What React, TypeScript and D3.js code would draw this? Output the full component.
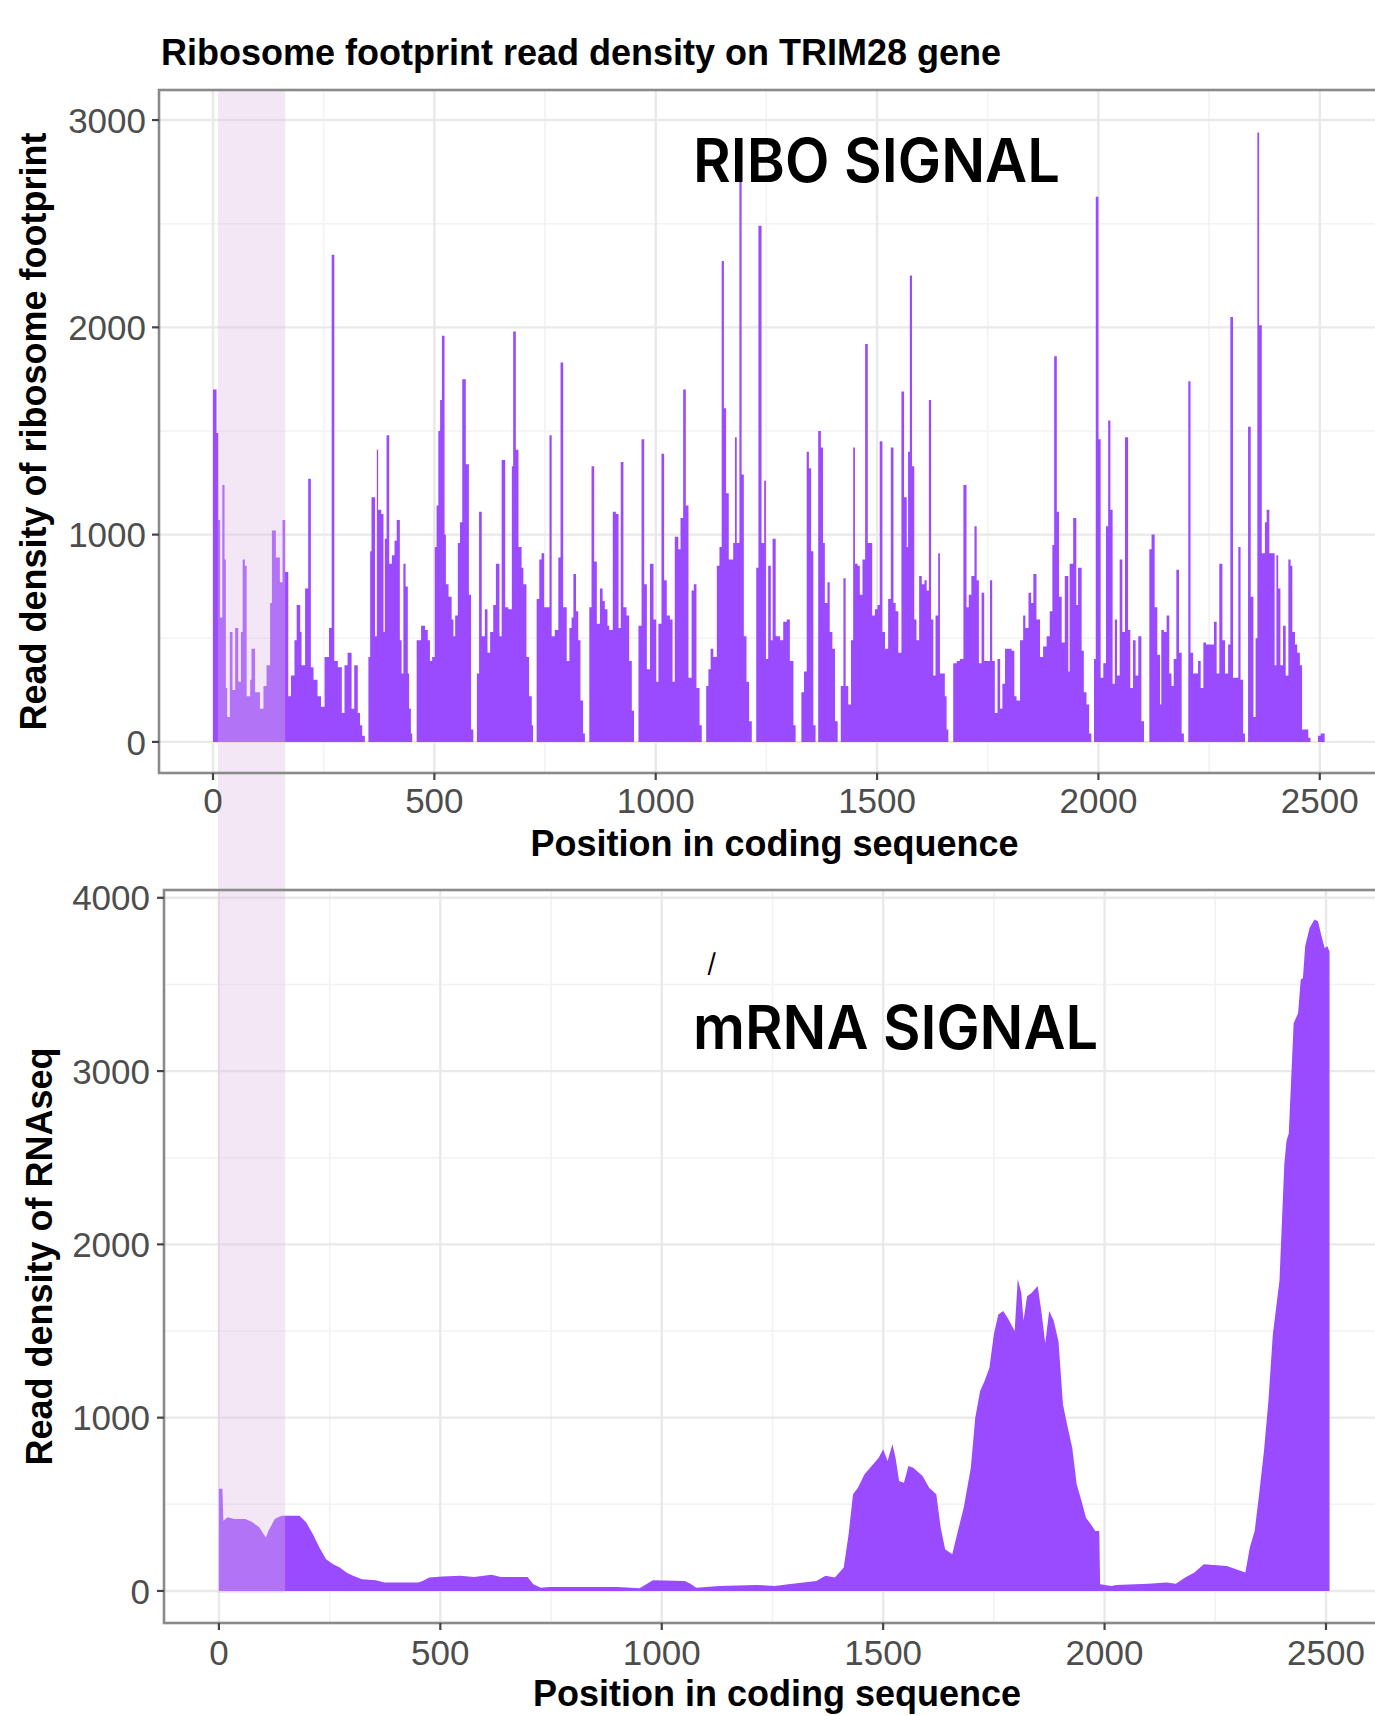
import * as d3 from "d3";

// ribosome footprint density, [position, reads]
const riboSignal: [number, number][] = [
  [0, 1700], [8, 1490], [12, 1070], [16, 600], [21, 1240], [26, 880], [29, 260], [32, 120], [38, 530], [44, 250],
  [50, 550], [57, 290], [63, 530], [67, 880], [72, 850], [76, 220], [84, 300], [87, 450], [95, 240], [106, 160],
  [114, 270], [121, 370], [129, 670], [133, 1020], [142, 890], [151, 770], [157, 1070], [163, 820], [170, 220], [176, 320],
  [184, 490], [189, 660], [197, 530], [200, 370], [208, 740], [215, 1270], [221, 360], [227, 300], [236, 220], [244, 170],
  [252, 410], [262, 550], [268, 2350], [274, 390], [282, 360], [291, 140], [297, 370], [304, 430], [313, 160], [319, 370],
  [327, 140], [332, 80], [337, 30], [343, 0],
  [351, 410], [355, 920], [358, 1180], [366, 510], [370, 1410], [373, 1120], [380, 1100], [385, 530], [388, 980], [392, 1480],
  [398, 860], [404, 900], [410, 970], [415, 1070], [422, 490], [426, 330], [430, 860], [435, 750], [440, 330], [443, 160],
  [447, 40], [450, 0],
  [460, 490], [470, 560], [479, 540], [485, 490], [490, 390], [495, 410], [501, 940], [505, 1140], [509, 1500], [513, 1650],
  [517, 1960], [523, 1000], [526, 760], [532, 700], [539, 590], [543, 510], [547, 610], [553, 960], [558, 1060], [563, 1750],
  [571, 1340], [578, 710], [583, 60], [588, 0],
  [596, 330], [601, 1110], [607, 510], [614, 640], [620, 430], [626, 530], [633, 660], [639, 860], [647, 510], [652, 1360],
  [660, 650], [667, 640], [675, 1330], [678, 1980], [684, 1410], [690, 940], [697, 840], [701, 760], [708, 410], [714, 220],
  [720, 80], [723, 0],
  [731, 690], [737, 880], [742, 910], [748, 650], [760, 1480], [765, 510], [772, 540], [780, 890], [785, 1830], [791, 650],
  [799, 390], [805, 550], [810, 600], [814, 810], [820, 630], [825, 490], [830, 200], [836, 40], [840, 0],
  [850, 650], [855, 1330], [861, 870], [867, 570], [874, 740], [880, 680], [885, 640], [891, 560], [895, 540], [903, 1110],
  [910, 1100], [916, 550], [921, 1350], [927, 650], [934, 610], [940, 390], [946, 150], [951, 0],
  [961, 560], [968, 1460], [974, 760], [980, 350], [987, 860], [995, 590], [1001, 290], [1006, 570], [1013, 1390], [1019, 780],
  [1025, 610], [1032, 590], [1038, 290], [1043, 990], [1051, 930], [1056, 1080], [1062, 1700], [1068, 1140], [1074, 310], [1081, 730],
  [1086, 760], [1092, 260], [1099, 80], [1104, 0],
  [1114, 270], [1119, 350], [1124, 450], [1130, 410], [1138, 850], [1144, 940], [1149, 2320], [1154, 1610], [1159, 1200], [1165, 880],
  [1175, 960], [1179, 1470], [1183, 960], [1189, 2740], [1194, 1290], [1199, 510], [1205, 290], [1211, 100], [1217, 0],
  [1227, 840], [1232, 2490], [1239, 960], [1245, 1260], [1249, 400], [1254, 850], [1260, 490], [1264, 980], [1271, 510], [1281, 490],
  [1288, 580], [1296, 590], [1303, 390], [1311, 80], [1316, 0],
  [1329, 240], [1335, 340], [1341, 1400], [1346, 1320], [1351, 920], [1356, 80], [1361, 0],
  [1367, 1500], [1373, 1420], [1378, 960], [1382, 670], [1388, 770], [1393, 530], [1399, 450], [1405, 100], [1411, 0],
  [1418, 270], [1424, 790], [1429, 270], [1435, 180], [1441, 490], [1446, 1420], [1450, 860], [1456, 850], [1461, 710], [1467, 880],
  [1473, 1920], [1479, 960], [1489, 610], [1495, 640], [1501, 660], [1506, 1450], [1512, 530], [1518, 450], [1525, 690], [1531, 1420],
  [1537, 670], [1542, 630], [1548, 430], [1555, 1690], [1561, 1180], [1567, 940], [1570, 1400], [1574, 2250], [1579, 1330], [1584, 590],
  [1589, 490], [1595, 800], [1601, 760], [1607, 780], [1612, 730], [1617, 1650], [1622, 590], [1627, 320], [1632, 610], [1638, 910],
  [1642, 330], [1653, 220], [1657, 60], [1661, 0],
  [1672, 380], [1680, 390], [1687, 400], [1695, 1240], [1702, 650], [1707, 710], [1713, 800], [1720, 1040], [1725, 780], [1730, 380],
  [1736, 720], [1742, 390], [1755, 780], [1760, 390], [1766, 140], [1772, 400], [1778, 160], [1783, 280], [1789, 450], [1804, 440],
  [1810, 220], [1815, 200], [1823, 490], [1830, 610], [1835, 550], [1842, 720], [1848, 670], [1853, 810], [1860, 590], [1868, 410],
  [1875, 460], [1883, 510], [1890, 630], [1896, 950], [1900, 1860], [1906, 1110], [1911, 700], [1917, 480], [1924, 800], [1932, 340],
  [1935, 860], [1943, 1080], [1950, 660], [1954, 840], [1962, 440], [1967, 240], [1973, 180], [1979, 40], [1984, 0],
  [1990, 400], [1994, 2630], [2000, 1460], [2005, 310], [2011, 380], [2017, 1040], [2022, 1550], [2027, 1120], [2032, 280], [2037, 590],
  [2042, 320], [2048, 880], [2054, 530], [2060, 1470], [2067, 540], [2072, 260], [2078, 490], [2084, 320], [2090, 510], [2097, 100],
  [2103, 0],
  [2115, 930], [2120, 1000], [2127, 650], [2133, 420], [2139, 180], [2142, 540], [2148, 530], [2154, 610], [2160, 330], [2165, 270],
  [2170, 400], [2176, 830], [2182, 430], [2188, 40], [2193, 0],
  [2203, 1740], [2208, 430], [2214, 330], [2225, 390], [2231, 260], [2237, 480], [2243, 470], [2255, 470], [2261, 580], [2267, 330],
  [2273, 860], [2280, 490], [2286, 330], [2293, 470], [2298, 2050], [2304, 310], [2316, 940], [2321, 300], [2327, 40], [2331, 0],
  [2338, 1520], [2344, 700], [2350, 120], [2355, 500], [2359, 2940], [2363, 2010], [2369, 910], [2376, 1060], [2380, 1120], [2386, 910],
  [2398, 370], [2402, 900], [2406, 740], [2411, 370], [2417, 560], [2423, 320], [2429, 880], [2434, 850], [2438, 530], [2444, 470],
  [2449, 430], [2455, 370], [2460, 60], [2474, 20], [2479, 0],
  [2496, 30], [2502, 40], [2511, 0],
];

// RNA-seq coverage, [position, reads]
const mrnaSignal: [number, number][] = [
  [0, 590], [8, 590], [10, 405], [20, 425], [35, 415], [60, 415], [76, 396], [91, 367], [106, 309], [112, 347],
  [126, 415], [141, 434], [182, 434], [197, 396], [212, 328], [227, 251], [242, 183], [258, 154], [273, 135], [288, 106],
  [303, 87], [323, 68], [354, 62], [374, 48], [450, 48], [460, 58], [475, 77], [505, 83], [545, 87], [576, 81],
  [616, 93], [636, 81], [697, 81], [710, 39], [727, 19], [747, 23], [900, 23], [950, 15], [965, 39], [980, 62],
  [1052, 58], [1065, 42], [1078, 19], [1130, 29], [1213, 35], [1255, 29], [1286, 38], [1349, 58], [1370, 87], [1391, 77],
  [1411, 135], [1422, 327], [1432, 558], [1443, 596], [1458, 673], [1474, 721], [1490, 769], [1500, 817], [1510, 750], [1521, 846],
  [1528, 769], [1536, 635], [1547, 625], [1557, 721], [1568, 711], [1589, 663], [1604, 596], [1620, 558], [1630, 365], [1640, 240],
  [1656, 212], [1667, 327], [1682, 481], [1698, 711], [1708, 1000], [1719, 1154], [1729, 1212], [1740, 1288], [1750, 1481], [1760, 1596],
  [1771, 1615], [1781, 1577], [1797, 1500], [1804, 1800], [1812, 1720], [1817, 1560], [1825, 1700], [1835, 1720], [1849, 1760], [1858, 1600],
  [1866, 1430], [1875, 1615], [1885, 1560], [1896, 1440], [1906, 1077], [1917, 942], [1927, 827], [1937, 615], [1948, 519], [1958, 423],
  [1969, 385], [1979, 346], [1988, 346], [1990, 38], [2016, 29], [2026, 35], [2099, 42], [2140, 48], [2161, 42], [2182, 77],
  [2203, 106], [2224, 154], [2276, 144], [2297, 125], [2318, 106], [2328, 250], [2339, 346], [2349, 558], [2360, 808], [2370, 1096],
  [2380, 1481], [2395, 1790], [2406, 2466], [2411, 2600], [2416, 2640], [2427, 3276], [2437, 3334], [2443, 3527], [2448, 3537], [2453, 3720],
  [2463, 3826], [2474, 3875], [2482, 3865], [2489, 3788], [2497, 3710], [2503, 3720], [2508, 3690],
];

const xTicks = [0, 500, 1000, 1500, 2000, 2500];
const xMinor = [250, 750, 1250, 1750, 2250];
const riboYTicks = [0, 1000, 2000, 3000];
const riboYMinor = [500, 1500, 2500];
const mrnaYTicks = [0, 1000, 2000, 3000, 4000];
const mrnaYMinor = [500, 1500, 2500, 3500];
const highlight = [11, 163]; // shaded 5' region, in positions

const W = 1375;
const H = 1716;
const PURPLE = "#9a4aff";
const AXIS_FONT = "'Liberation Sans', Arial, Helvetica, sans-serif";

type Box = { left: number; top: number; bottom: number; right: number };

function PanelFrame({
  box,
  x,
  y,
  yTicks,
  yMinor,
  xTitle,
  xTitleY,
  xLabelY,
  yTitle,
  yTitleX,
  yLabelX,
}: {
  box: Box;
  x: d3.ScaleLinear<number, number>;
  y: d3.ScaleLinear<number, number>;
  yTicks: number[];
  yMinor: number[];
  xTitle: string;
  xTitleY: number;
  xLabelY: number;
  yTitle: string;
  yTitleX: number;
  yLabelX: number;
}) {
  const midY = (box.top + box.bottom) / 2;
  return (
    <g fontFamily={AXIS_FONT}>
      {yTicks.map((t) => (
        <g key={"yl" + t}>
          <line x1={box.left - 7} x2={box.left} y1={y(t)} y2={y(t)} stroke="#444" strokeWidth={2.2} />
          <text x={yLabelX} y={y(t)} dy="0.36em" textAnchor="end" fontSize={35} fill="#4d4d4d">
            {t}
          </text>
        </g>
      ))}
      {xTicks.map((t) => (
        <g key={"xl" + t}>
          <line x1={x(t)} x2={x(t)} y1={box.bottom} y2={box.bottom + 7} stroke="#444" strokeWidth={2.2} />
          <text x={x(t)} y={xLabelY} textAnchor="middle" fontSize={35} fill="#4d4d4d">
            {t}
          </text>
        </g>
      ))}
      <text
        x={(box.left + 1250) / 2 + 70}
        y={xTitleY}
        textAnchor="middle"
        fontSize={36}
        fontWeight="bold"
        fill="#000"
      >
        {xTitle}
      </text>
      <text
        transform={`translate(${yTitleX},${midY}) rotate(-90)`}
        textAnchor="middle"
        fontSize={36}
        fontWeight="bold"
        fill="#000"
      >
        {yTitle}
      </text>
    </g>
  );
}

function Grid({ box, x, y, yTicks, yMinor }: { box: Box; x: d3.ScaleLinear<number, number>; y: d3.ScaleLinear<number, number>; yTicks: number[]; yMinor: number[] }) {
  return (
    <g>
      {yMinor.map((t) => (
        <line key={"ym" + t} x1={box.left} x2={box.right} y1={y(t)} y2={y(t)} stroke="#f2f2f2" strokeWidth={1.6} />
      ))}
      {xMinor.map((t) => (
        <line key={"xm" + t} x1={x(t)} x2={x(t)} y1={box.top} y2={box.bottom} stroke="#f2f2f2" strokeWidth={1.6} />
      ))}
      {yTicks.map((t) => (
        <line key={"yg" + t} x1={box.left} x2={box.right} y1={y(t)} y2={y(t)} stroke="#e9e9e9" strokeWidth={2.4} />
      ))}
      {xTicks.map((t) => (
        <line key={"xg" + t} x1={x(t)} x2={x(t)} y1={box.top} y2={box.bottom} stroke="#e9e9e9" strokeWidth={2.4} />
      ))}
    </g>
  );
}

export default function App() {
  const top: Box = { left: 159, top: 90, bottom: 773, right: 1380 };
  const bot: Box = { left: 164, top: 890, bottom: 1623, right: 1380 };

  const xTop = d3.scaleLinear().domain([-122, 2636]).range([top.left, top.right]);
  const yTop = d3.scaleLinear().domain([-150, 3145]).range([top.bottom, top.top]);
  const xBot = d3.scaleLinear().domain([-124, 2622]).range([bot.left, bot.right]);
  const yBot = d3.scaleLinear().domain([-185, 4045]).range([bot.bottom, bot.top]);

  const riboArea = d3
    .area<[number, number]>()
    .x((d) => xTop(d[0]))
    .y0(yTop(0))
    .y1((d) => yTop(d[1]))
    .curve(d3.curveStepAfter);

  const mrnaArea = d3
    .area<[number, number]>()
    .x((d) => xBot(d[0]))
    .y0(yBot(0))
    .y1((d) => yBot(d[1]));

  const hx0 = xTop(highlight[0]);
  const hx1 = xTop(highlight[1]);

  return (
    <svg width={W} height={H} style={{ position: "absolute", left: 0, top: 0, background: "#fff" }}>
      <rect x={0} y={0} width={W} height={H} fill="#fff" />

      <Grid box={top} x={xTop} y={yTop} yTicks={riboYTicks} yMinor={riboYMinor} />
      <Grid box={bot} x={xBot} y={yBot} yTicks={mrnaYTicks} yMinor={mrnaYMinor} />

      <path d={riboArea(riboSignal) ?? ""} fill={PURPLE} />
      <path d={mrnaArea(mrnaSignal) ?? ""} fill={PURPLE} />

      <rect
        x={hx0}
        y={top.top}
        width={hx1 - hx0}
        height={yBot(0) + 2 - top.top}
        fill="rgb(221,189,229)"
        fillOpacity={0.36}
      />

      <rect x={top.left} y={top.top} width={top.right - top.left} height={top.bottom - top.top} fill="none" stroke="#8a8a8a" strokeWidth={2.6} />
      <rect x={bot.left} y={bot.top} width={bot.right - bot.left} height={bot.bottom - bot.top} fill="none" stroke="#8a8a8a" strokeWidth={2.6} />

      <PanelFrame
        box={top}
        x={xTop}
        y={yTop}
        yTicks={riboYTicks}
        yMinor={riboYMinor}
        xTitle="Position in coding sequence"
        xTitleY={856}
        xLabelY={813}
        yTitle="Read density of ribosome footprint"
        yTitleX={46}
        yLabelX={146}
      />
      <PanelFrame
        box={bot}
        x={xBot}
        y={yBot}
        yTicks={mrnaYTicks}
        yMinor={mrnaYMinor}
        xTitle="Position in coding sequence"
        xTitleY={1706}
        xLabelY={1665}
        yTitle="Read density of RNAseq"
        yTitleX={52}
        yLabelX={150}
      />

      <text x={161} y={65} fontFamily={AXIS_FONT} fontSize={36} fontWeight="bold" fill="#000">
        Ribosome footprint read density on TRIM28 gene
      </text>

      <text x={693} y={182} fontFamily="Inter, 'Noto Sans', sans-serif" fontWeight={600} fontSize={60} fill="#000" textLength={367} lengthAdjust="spacingAndGlyphs">
        RIBO SIGNAL
      </text>
      <text x={707} y={972} fontFamily="Inter, 'Noto Sans', sans-serif" fontSize={26} fill="#000">
        /
      </text>
      <text x={693} y={1049} fontFamily="Inter, 'Noto Sans', sans-serif" fontWeight={600} fontSize={60} fill="#000" textLength={405} lengthAdjust="spacingAndGlyphs">
        mRNA SIGNAL
      </text>
    </svg>
  );
}
